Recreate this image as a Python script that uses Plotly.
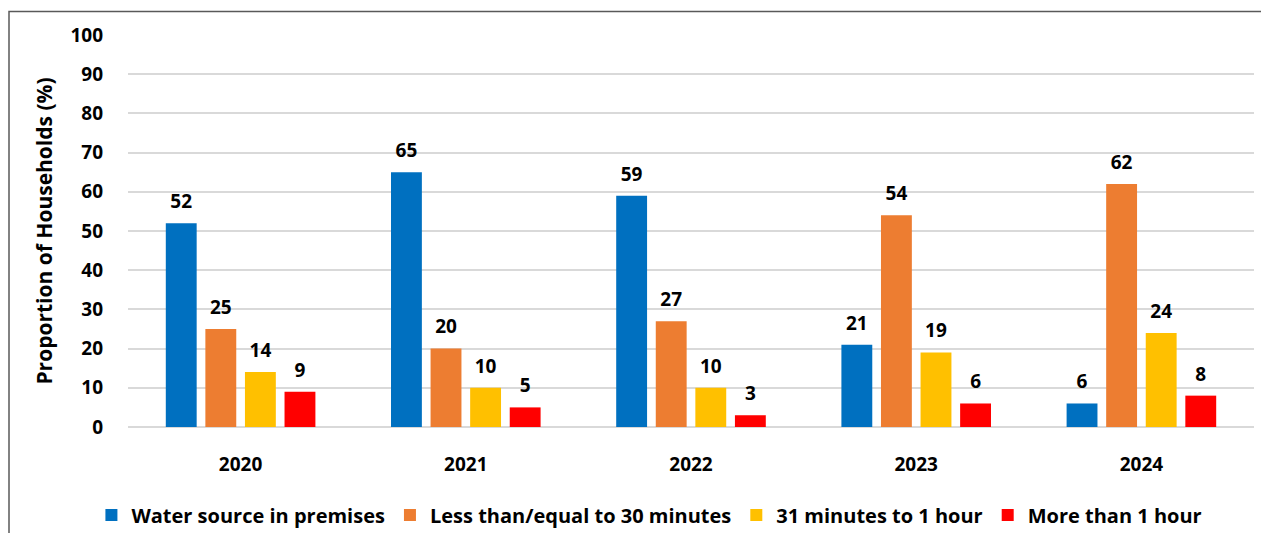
import plotly.graph_objects as go

years = ["2020", "2021", "2022", "2023", "2024"]
series_names = ["Water source in premises", "Less than/equal to 30 minutes",
                "31 minutes to 1 hour", "More than 1 hour"]
water_premises = [52, 65, 59, 21, 6]
le_30_min = [25, 20, 27, 54, 62]
min31_to_1h = [14, 10, 10, 19, 24]
more_1h = [9, 5, 3, 6, 8]
y_ticks = [0, 10, 20, 30, 40, 50, 60, 70, 80, 90, 100]

colors = ["#0070C0", "#ED7D31", "#FFC000", "#FF0000"]
series = [water_premises, le_30_min, min31_to_1h, more_1h]

FONT = "Open Sans"
fig = go.Figure()
for name, vals, col in zip(series_names, series, colors):
    fig.add_trace(go.Bar(
        x=years, y=vals, name=name, marker=dict(color=col, line=dict(width=0)),
        offsetgroup=name,
    ))
for name, vals, col in zip(series_names, series, colors):
    fig.add_trace(go.Scatter(
        x=years, y=vals, mode="markers+text", text=[str(v) for v in vals],
        marker=dict(size=15, opacity=0, color=col),
        textposition="top center", offsetgroup=name, showlegend=False,
        textfont=dict(family=FONT, size=19, color="#000000", weight="bold"),
        hoverinfo="skip", cliponaxis=False,
    ))

W, H = 1261, 533
L, R, T, B = 128, 7, 35, 106
pw, ph = W - L - R, H - T - B

def px_x(p):
    return (p - L) / pw

def px_y(p):
    return (H - B - p) / ph

fig.update_layout(
    width=W, height=H,
    margin=dict(l=L, r=R, t=T, b=B, autoexpand=False),
    paper_bgcolor="white", plot_bgcolor="white",
    barmode="group", scattermode="group",
    bargap=0.297, bargroupgap=0.22,
    font=dict(family=FONT, size=19, color="#000000", weight="bold"),
    legend=dict(orientation="h", xref="container", yref="container",
                x=0.515, y=1 - 515 / H, xanchor="center", yanchor="middle",
                font=dict(family=FONT, size=20, color="#000000", weight="bold"),
                itemwidth=30, traceorder="normal"),
    xaxis=dict(showgrid=False, ticks="outside", ticklen=20,
               tickcolor="rgba(0,0,0,0)", showline=False,
               tickfont=dict(family=FONT, size=19, weight="bold")),
    yaxis=dict(range=[0, 100], tickvals=y_ticks, showgrid=True,
               gridcolor="#D9D9D9", gridwidth=1.5, zeroline=True,
               zerolinecolor="#D9D9D9", zerolinewidth=1.5,
               ticklabelstandoff=24,
               tickfont=dict(family=FONT, size=19, weight="bold"),
               title=dict(text="Proportion of Households (%)", standoff=12,
                          font=dict(family=FONT, size=21, weight="bold"))),
    shapes=[dict(type="rect", xref="paper", yref="paper",
                 x0=px_x(9), x1=px_x(1275), y0=px_y(545), y1=px_y(11.5),
                 line=dict(color="#595959", width=1.5), layer="above")],
)

fig.write_html("out.html", config={"displayModeBar": False},
               post_script="document.body.style.margin='0';"
                           "document.body.style.overflow='hidden';")
